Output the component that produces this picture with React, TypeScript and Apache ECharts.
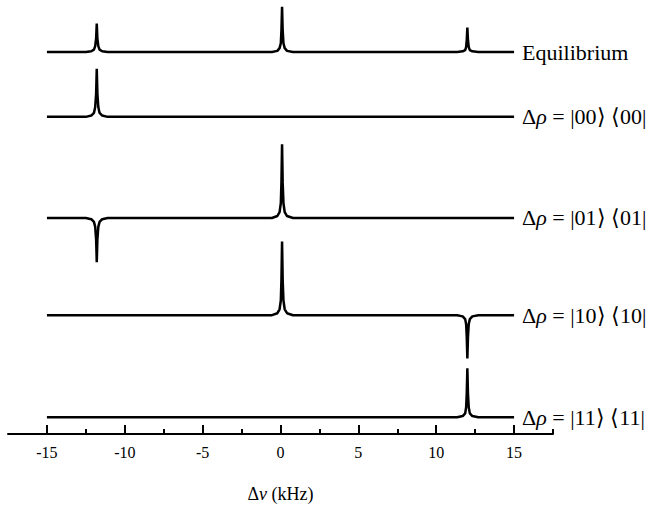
import React, { useEffect, useRef } from "react";
import * as echarts from "echarts";

// Trace names (right-hand labels)
const traceNames = [
  "Equilibrium",
  "Δ{i|ρ} = |00⟩ ⟨00|",
  "Δ{i|ρ} = |01⟩ ⟨01|",
  "Δ{i|ρ} = |10⟩ ⟨10|",
  "Δ{i|ρ} = |11⟩ ⟨11|",
];

// Spectra: [Δν (kHz), intensity (arb.)]
const equilibrium: number[][] = [
  [-15, 0], [-12.5, 0], [-12.15, 0.8], [-11.98, 2.5], [-11.9, 6], [-11.84, 14], [-11.8, 29], [-11.76, 14], [-11.7, 6], [-11.62, 2.5], [-11.45, 0.8], [-11.1, 0],
  [-0.55, 0], [-0.2, 1.2], [-0.06, 4], [0.02, 9], [0.06, 22], [0.1, 46], [0.14, 22], [0.19, 9], [0.27, 4], [0.42, 1.2], [0.8, 0],
  [11.35, 0], [11.7, 0.7], [11.86, 2], [11.92, 5], [11.96, 12], [12.0, 25], [12.04, 12], [12.09, 5], [12.16, 2], [12.32, 0.7], [12.7, 0], [15, 0],
];
const rho00: number[][] = [
  [-15, 0], [-12.5, 0], [-12.15, 1.3], [-11.98, 4], [-11.9, 10], [-11.84, 24], [-11.8, 49], [-11.76, 24], [-11.7, 10], [-11.62, 4], [-11.45, 1.3], [-11.1, 0], [15, 0],
];
const rho01: number[][] = [
  [-15, 0], [-12.5, 0], [-12.15, -1.2], [-11.98, -4], [-11.9, -9], [-11.84, -22], [-11.8, -45], [-11.76, -22], [-11.7, -9], [-11.62, -4], [-11.45, -1.2], [-11.1, 0],
  [-0.55, 0], [-0.2, 2], [-0.06, 6], [0.02, 15], [0.06, 36], [0.1, 75], [0.14, 36], [0.19, 15], [0.27, 6], [0.42, 2], [0.8, 0], [15, 0],
];
const rho10: number[][] = [
  [-15, 0], [-0.55, 0], [-0.2, 2], [-0.06, 6], [0.02, 15], [0.06, 36], [0.1, 75], [0.14, 36], [0.19, 15], [0.27, 6], [0.42, 2], [0.8, 0],
  [11.35, 0], [11.7, -1.2], [11.86, -4], [11.92, -9], [11.96, -22], [12.0, -44], [12.04, -22], [12.09, -9], [12.16, -4], [12.32, -1.2], [12.7, 0], [15, 0],
];
const rho11: number[][] = [
  [-15, 0], [11.35, 0], [11.7, 1.3], [11.86, 4], [11.92, 10], [11.96, 24], [12.0, 50], [12.04, 24], [12.09, 10], [12.16, 4], [12.32, 1.3], [12.7, 0], [15, 0],
];

const majorTicks = [-15, -10, -5, 0, 5, 10, 15];
const minorTicks = [-12.5, -7.5, -2.5, 2.5, 7.5, 12.5, 17.5];

export default function App() {
  const ref = useRef<HTMLDivElement>(null);
  useEffect(() => {
    if (!ref.current) return;
    const chart = echarts.init(ref.current, undefined, { renderer: "svg" });
    const traces = [equilibrium, rho00, rho01, rho10, rho11];
    const offsets = [389, 323, 220, 121, 17];
    const font = "serif";
    const series = traces.map((t, i) => ({
      type: "line",
      name: "trace" + i,
      xAxisIndex: 0,
      data: t.map((p) => [p[0], p[1] + offsets[i]]),
      showSymbol: false,
      symbol: "none",
      lineStyle: { color: "#000", width: 2.5 },
      endLabel: {
        show: true,
        distance: 8,
        formatter: traceNames[i],
        color: "#000",
        fontFamily: font,
        fontSize: 22,
        rich: {
          i: { fontStyle: "italic", fontFamily: font, fontSize: 22, color: "#000" },
        },
      },
    }));
    chart.setOption({
      animation: false,
      textStyle: { fontFamily: font },
      grid: { left: 8, right: 95, top: 0, bottom: 66 },
      xAxis: [
        {
          type: "value",
          min: -17.5,
          max: 17.5,
          position: "bottom",
          name: "Δ{i|ν} (kHz)",
          nameLocation: "middle",
          nameGap: 51,
          nameTextStyle: {
            color: "#000",
            fontFamily: font,
            fontSize: 18,
            rich: { i: { fontStyle: "italic", fontFamily: font, fontSize: 18, color: "#000" } },
          },
          axisLine: { show: true, lineStyle: { color: "#000", width: 2 } },
          axisTick: { show: true, inside: true, length: 9, customValues: majorTicks, lineStyle: { color: "#000", width: 2 } },
          axisLabel: { show: true, customValues: majorTicks, margin: 10, color: "#000", fontFamily: font, fontSize: 16 },
          splitLine: { show: false },
        },
        {
          type: "value",
          min: -17.5,
          max: 17.5,
          position: "bottom",
          axisLine: { show: false },
          axisTick: { show: true, inside: true, length: 5, customValues: minorTicks, lineStyle: { color: "#000", width: 2 } },
          axisLabel: { show: false },
          splitLine: { show: false },
        },
      ],
      yAxis: { type: "value", min: 0, max: 442, show: false, splitLine: { show: false } },
      series,
    });
    return () => chart.dispose();
  }, []);
  return (
    <div
      ref={ref}
      style={{ position: "absolute", left: 0, top: 0, width: 648, height: 508, background: "#fff" }}
    />
  );
}
